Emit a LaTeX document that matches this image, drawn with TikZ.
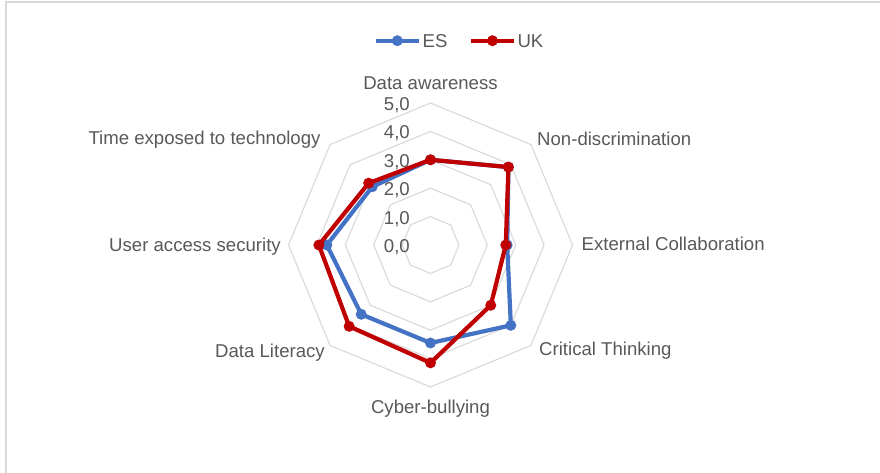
\documentclass[tikz,border=0pt]{standalone}
\usepackage{fontspec}
\setmainfont{Liberation Sans}
\definecolor{esblue}{HTML}{4472C4}
\definecolor{ukred}{HTML}{C00000}
\definecolor{gridgray}{HTML}{D9D9D9}
\definecolor{txtgray}{HTML}{595959}
\begin{document}
\begin{tikzpicture}[x=1pt,y=-1pt,
  lbl/.style={font=\fontsize{18.6}{21}\selectfont, text=txtgray, inner sep=0pt},
  ring/.style={draw=gridgray, line width=1.1pt},
  esline/.style={draw=esblue, line width=4.2pt, line join=round},
  ukline/.style={draw=ukred, line width=4.2pt, line join=round},
  esdot/.style={circle, fill=esblue, minimum size=11pt, inner sep=0pt},
  ukdot/.style={circle, fill=ukred, minimum size=11pt, inner sep=0pt}]
\useasboundingbox (0,0) rectangle (880,472);
\clip (0,0) rectangle (880,472);
\fill[white] (0,0) rectangle (880,472);
\draw[gridgray, line width=1.2pt] (6,2) rectangle (900,490);
% legend
\coordinate (esA) at (375.7,40.7);
\coordinate (esB) at (419.3,40.7);
\coordinate (ukA) at (471,40.7);
\coordinate (ukB) at (514.3,40.7);
\draw[esline] (esA) -- (esB);
\node[esdot] (esleg) at (397.3,40.7) {};
\node[lbl, anchor=base west] (esname) at (422.5,47.2) {ES};
\draw[ukline] (ukA) -- (ukB);
\node[ukdot] (ukleg) at (492.5,40.7) {};
\node[lbl, anchor=base west] (ukname) at (517.3,47.2) {UK};
% radar
\begin{scope}[shift={(430.5,245)}]
  \foreach \r in {1,...,5} {
    \draw[ring] (-90:{\r*28.4}) \foreach \i in {1,...,7} { -- ({-90+45*\i}:{\r*28.4}) } -- cycle;
  }
  \foreach \v [count=\i from 0] in {3.0,3.88,2.7,4.0,3.45,3.45,3.65,2.9}
    \coordinate (es\i) at ({-90+45*\i}:{\v*28.4});
  \foreach \v [count=\i from 0] in {3.0,3.88,2.65,3.0,4.15,4.05,3.93,3.08}
    \coordinate (uk\i) at ({-90+45*\i}:{\v*28.4});
  \draw[esline] (es0) -- (es1) -- (es2) -- (es3) -- (es4) -- (es5) -- (es6) -- (es7) -- cycle;
  \foreach \i in {0,...,7} \node[esdot] (esd\i) at (es\i) {};
  \draw[ukline] (uk0) -- (uk1) -- (uk2) -- (uk3) -- (uk4) -- (uk5) -- (uk6) -- (uk7) -- cycle;
  \foreach \i in {0,...,7} \node[ukdot] (ukd\i) at (uk\i) {};
\end{scope}
% tick labels
\foreach \k in {0,...,5}
  \node[lbl, anchor=base east] (tick\k) at (410,{245-28.4*\k+7.5}) {\k,0};
% axis labels
\node[lbl, anchor=base] (ax0) at (430.5,89.3) {Data awareness};
\node[lbl, anchor=base west] (ax1) at (537,145) {Non-discrimination};
\node[lbl, anchor=base west] (ax2) at (581.5,250.7) {External Collaboration};
\node[lbl, anchor=base west] (ax3) at (539,355.5) {Critical Thinking};
\node[lbl, anchor=base] (ax4) at (430.5,413) {Cyber-bullying};
\node[lbl, anchor=base east] (ax5) at (325,357) {Data Literacy};
\node[lbl, anchor=base east] (ax6) at (281,251) {User access security};
\node[lbl, anchor=base east] (ax7) at (320.7,144.3) {Time exposed to technology};
\end{tikzpicture}
\end{document}
